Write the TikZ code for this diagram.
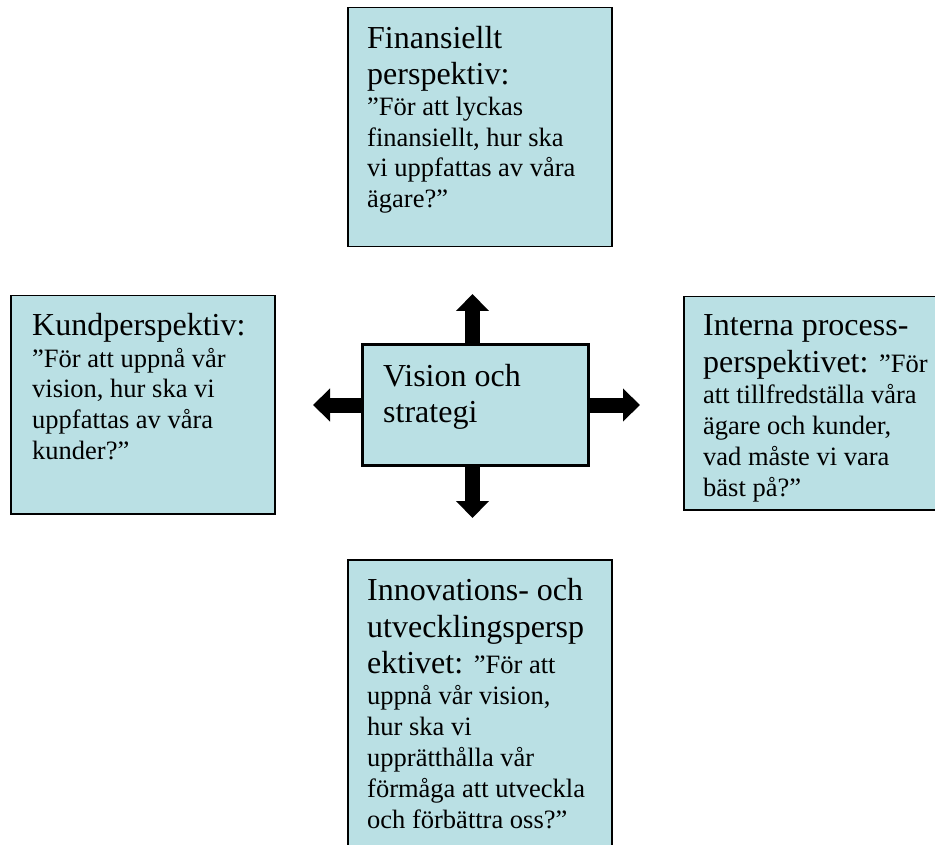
\documentclass[tikz,border=0pt]{standalone}
\usepackage{fontspec}
\setmainfont{Liberation Serif}
\usetikzlibrary{arrows.meta}
\definecolor{boxfill}{RGB}{186,224,228}
\newcommand\bigtxt{\fontsize{32}{34}\selectfont}
\newcommand\smtxt{\fontsize{26.5}{28}\selectfont}
\begin{document}
\begin{tikzpicture}[x=1pt,y=-1pt,
  box/.style={draw=black, line width=1.5pt, fill=boxfill, inner sep=0pt, anchor=north west},
  ln/.style={anchor=base west, inner sep=0pt, text=black},
  bigarrow/.style={line width=15pt, draw=black, -{Triangle[length=17pt,width=32pt]}}]
\useasboundingbox (0,0) rectangle (935,845);
\clip (0,0) rectangle (935,845);
\fill[white] (0,0) rectangle (935,845);
% boxes
\node[box, minimum width=264pt, minimum height=239pt] (fin) at (347,7) {};
\node[box, minimum width=264pt, minimum height=218pt] (kund) at (10,295) {};
\node[box, minimum width=270pt, minimum height=213pt] (intern) at (683,296) {};
\node[box, minimum width=264pt, minimum height=300pt] (innov) at (347,559) {};
\node[box, line width=3pt, minimum width=226pt, minimum height=121pt] (vis) at (361,343) {};
% arrows
\draw[bigarrow] ([xshift=-3pt]vis.north) -- ++(0,-49);
\draw[bigarrow] ([xshift=-3pt]vis.south) -- ++(0,51);
\draw[bigarrow] (vis.west) -- ++(-48,0);
\draw[bigarrow] (vis.east) -- ++(50,0);
% top box text
\node[ln] (f1) at (367,49) {\bigtxt Finansiellt};
\node[ln] (f2) at (367,85) {\bigtxt perspektiv:};
\node[ln] (f3) at (367,116) {\smtxt ”För att lyckas};
\node[ln] (f4) at (367,147) {\smtxt finansiellt, hur ska};
\node[ln] (f5) at (367,177) {\smtxt vi uppfattas av våra};
\node[ln] (f6) at (367,208) {\smtxt ägare?”};
% left box text
\node[ln] (k1) at (32,335) {\bigtxt Kundperspektiv:};
\node[ln] (k2) at (32,367) {\smtxt ”För att uppnå vår};
\node[ln] (k3) at (32,397) {\smtxt vision, hur ska vi};
\node[ln] (k4) at (32,428) {\smtxt uppfattas av våra};
\node[ln] (k5) at (32,459) {\smtxt kunder?”};
% right box text
\node[ln] (i1) at (703,335) {\bigtxt Interna process-};
\node[ln] (i2) at (703,372) {\bigtxt perspektivet: \smtxt ”För};
\node[ln] (i3) at (703,403) {\smtxt att tillfredställa våra};
\node[ln] (i4) at (703,434) {\smtxt ägare och kunder,};
\node[ln] (i5) at (703,465) {\smtxt vad måste vi vara};
\node[ln] (i6) at (703,496) {\smtxt bäst på?”};
% center text
\node[ln] (v1) at (383,386) {\bigtxt Vision och};
\node[ln] (v2) at (383,422) {\bigtxt strategi};
% bottom box text
\node[ln] (u1) at (367,600) {\bigtxt Innovations- och};
\node[ln] (u2) at (367,637) {\bigtxt utvecklingspersp};
\node[ln] (u3) at (367,673) {\bigtxt ektivet: \smtxt ”För att};
\node[ln] (u4) at (367,704) {\smtxt uppnå vår vision,};
\node[ln] (u5) at (367,735) {\smtxt hur ska vi};
\node[ln] (u6) at (367,766) {\smtxt upprätthålla vår};
\node[ln] (u7) at (367,797) {\smtxt förmåga att utveckla};
\node[ln] (u8) at (367,828) {\smtxt och förbättra oss?”};
\end{tikzpicture}
\end{document}
